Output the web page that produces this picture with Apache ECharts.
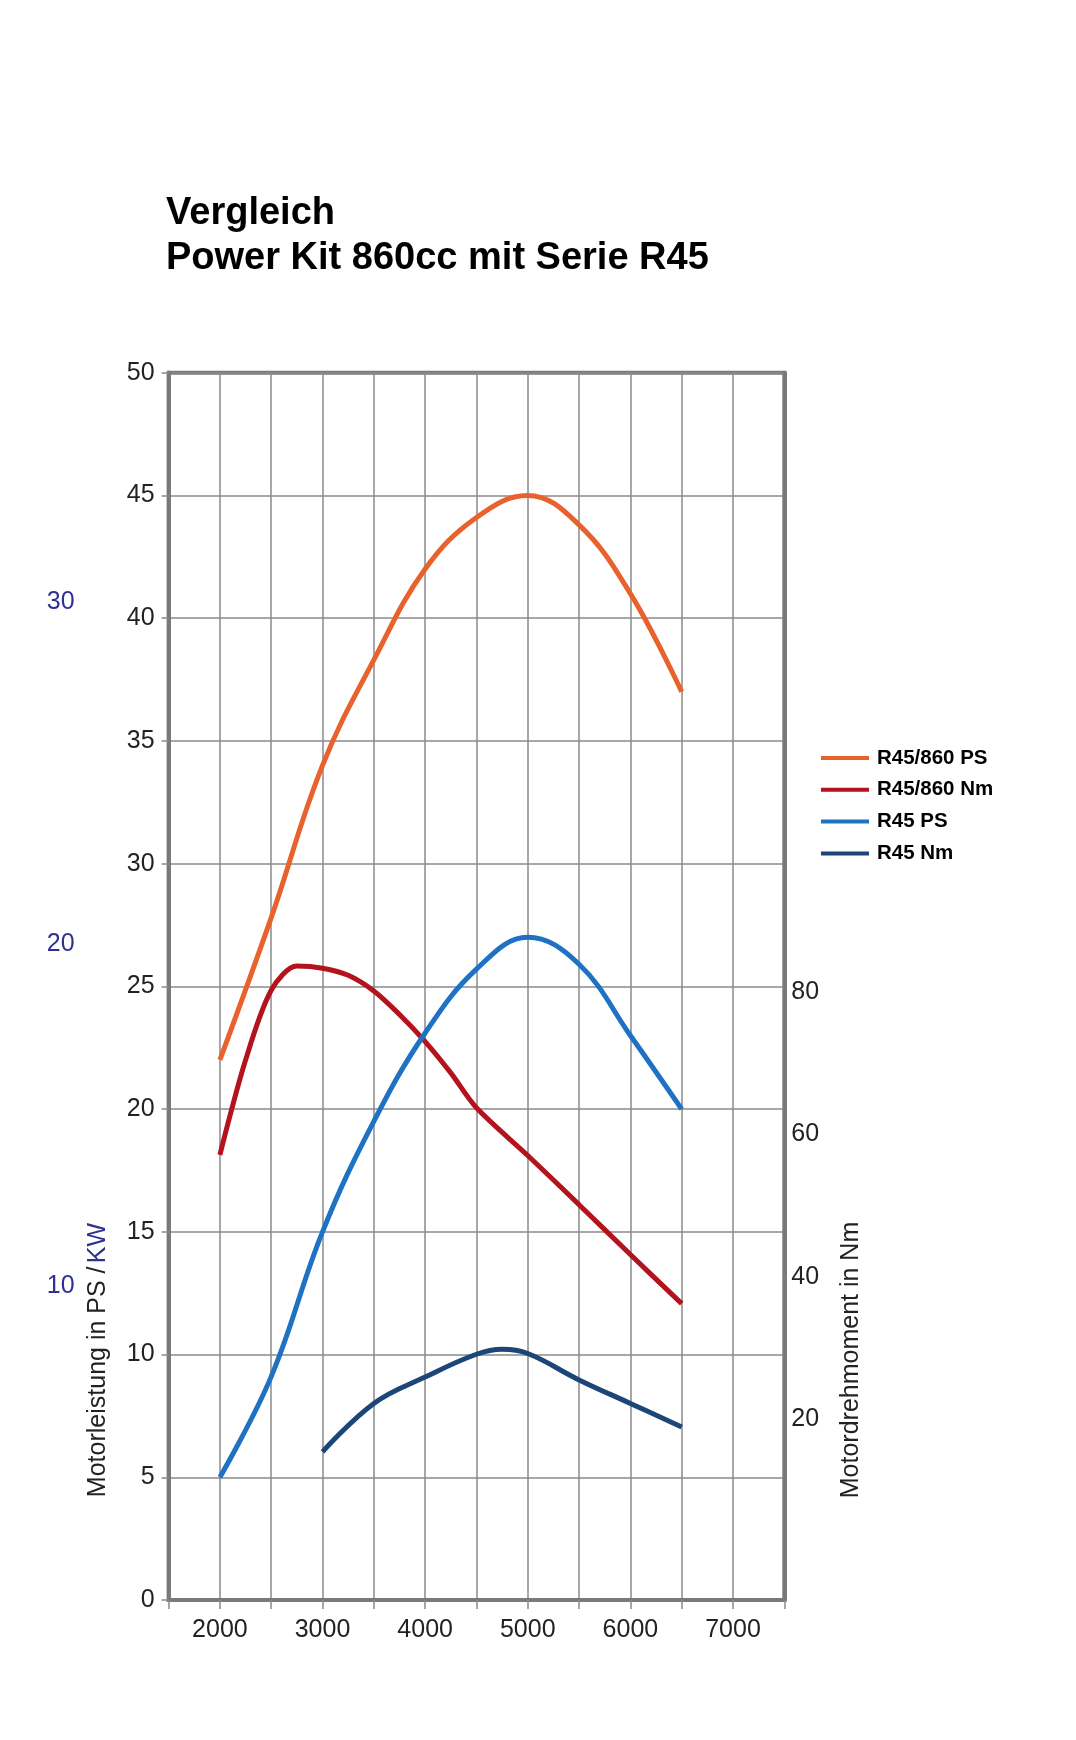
<!DOCTYPE html>
<html>
<head>
<meta charset="utf-8">
<script src="https://cdn.jsdelivr.net/npm/echarts@6/dist/echarts.min.js"></script>
<style>
html,body{margin:0;padding:0;background:#fff;}
#chart{width:1076px;height:1740px;}
</style>
</head>
<body>
<div id="chart"></div>
<script>
// ---- data ----
const titleLines = ['Vergleich', 'Power Kit 860cc mit Serie R45'];
const seriesNames = ['R45/860 PS', 'R45/860 Nm', 'R45 PS', 'R45 Nm'];

const rpmPS = [2000, 2500, 3000, 3500, 4000, 4500, 5000, 5500, 6000, 6500];
const kitPS = [22, 27.8, 34, 38.3, 42, 44.1, 45, 43.8, 41, 37];
const r45PS = [5, 9.1, 15, 19.5, 23.1, 25.7, 27, 25.9, 23, 20];

const rpmKitNm = [2000, 2250, 2500, 2750, 3000, 3250, 3500, 3750, 4000, 4250, 4500, 5000, 5500, 6000, 6500];
const kitNm = [57.1, 70.4, 80.2, 83.6, 83.3, 82.3, 80.1, 76.8, 73.0, 68.6, 63.7, 57, 50.1, 43.1, 36.2];

const rpmR45Nm = [3000, 3500, 4000, 4500, 4750, 5000, 5500, 6000, 6500];
const r45Nm = [15.4, 22.2, 25.9, 29.1, 29.8, 29.2, 25.5, 22.2, 18.9];

const nmTicks = [20, 40, 60, 80];
const kwTicks = [10, 20, 30];
const leftAxisName = ['Motorleistung in PS /', 'KW'];
const rightAxisName = 'Motordrehmoment in Nm';

// ---- chart ----
const colors = ['#E8622D', '#B3131D', '#1F71C3', '#1C4677'];
const FONT = 'Liberation Sans, Arial, sans-serif';
const pair = (xs, ys) => xs.map((x, i) => [x, ys[i]]);

const chart = echarts.init(document.getElementById('chart'), null, {renderer: 'canvas'});
const gridLine = {lineStyle: {color: '#8a8a8a', width: 1.5}};
const frame = {lineStyle: {color: '#7a7a7a', width: 4}};

chart.setOption({
  animation: false,
  backgroundColor: '#ffffff',
  color: colors,
  textStyle: {fontFamily: FONT},
  title: {
    text: titleLines.join('\n'),
    left: 166,
    top: 191,
    padding: 0,
    textStyle: {fontFamily: FONT, fontSize: 38, fontWeight: 'bold', color: '#000', lineHeight: 45}
  },
  legend: {
    orient: 'vertical',
    left: 821,
    top: 747.5,
    padding: 0,
    itemGap: 10.8,
    itemWidth: 48,
    itemHeight: 4,
    icon: 'rect',
    data: seriesNames,
    textStyle: {fontFamily: FONT, fontSize: 20.5, fontWeight: 'bold', color: '#000', lineHeight: 20, padding: [0, 0, 0, 3]}
  },
  grid: {
    left: 168.6, top: 372.7, right: 291.7, bottom: 140,
    show: true, borderColor: '#7a7a7a', borderWidth: 4, backgroundColor: 'transparent'
  },
  xAxis: {
    type: 'value',
    min: 1500, max: 7500, interval: 500,
    axisLine: frame,
    axisTick: {show: true, inside: false, length: 9, lineStyle: {color: '#8a8a8a', width: 1.5}},
    splitLine: {show: true, ...gridLine},
    axisLabel: {
      fontFamily: FONT, fontSize: 25, color: '#222', margin: 18,
      formatter: v => (v % 1000 === 0 ? String(v) : '')
    }
  },
  yAxis: [
    {
      type: 'value', position: 'left',
      min: 0, max: 50, interval: 5,
      axisLine: {show: true, ...frame},
      axisTick: {show: true, length: 7, lineStyle: {color: '#8a8a8a', width: 1.5}},
      splitLine: {show: true, ...gridLine},
      axisLabel: {fontFamily: FONT, fontSize: 25, color: '#222', margin: 14}
    },
    {
      type: 'value', position: 'right',
      min: -5.4, max: 166.9,
      axisLine: {show: true, ...frame},
      axisTick: {show: false},
      splitLine: {show: false},
      axisLabel: {fontFamily: FONT, fontSize: 25, color: '#222', margin: 7, customValues: nmTicks}
    },
    {
      type: 'value', position: 'left', offset: 86,
      min: 0.8, max: 36.72,
      axisLine: {show: false},
      axisTick: {show: false},
      splitLine: {show: false},
      axisLabel: {fontFamily: FONT, fontSize: 25, color: '#2E3192', margin: 8, customValues: kwTicks}
    }
  ],
  series: [
    {name: seriesNames[0], type: 'line', yAxisIndex: 0, data: pair(rpmPS, kitPS), smooth: 0.4, showSymbol: false, lineStyle: {width: 5, color: colors[0]}, z: 5},
    {name: seriesNames[1], type: 'line', yAxisIndex: 1, data: pair(rpmKitNm, kitNm), smooth: 0.3, showSymbol: false, lineStyle: {width: 5, color: colors[1]}, z: 4},
    {name: seriesNames[2], type: 'line', yAxisIndex: 0, data: pair(rpmPS, r45PS), smooth: 0.4, showSymbol: false, lineStyle: {width: 5, color: colors[2]}, z: 6},
    {name: seriesNames[3], type: 'line', yAxisIndex: 1, data: pair(rpmR45Nm, r45Nm), smooth: 0.4, showSymbol: false, lineStyle: {width: 5, color: colors[3]}, z: 3}
  ],
  graphic: [
    {
      type: 'text', x: 98.5, y: 1360, rotation: Math.PI / 2,
      style: {
        text: '{a|' + leftAxisName[0] + '} {b|' + leftAxisName[1] + '}',
        align: 'center', verticalAlign: 'middle',
        rich: {
          a: {fontFamily: FONT, fontSize: 25, fill: '#222'},
          b: {fontFamily: FONT, fontSize: 25, fill: '#2E3192'}
        }
      }
    },
    {
      type: 'text', x: 851, y: 1360, rotation: Math.PI / 2,
      style: {
        text: rightAxisName, align: 'center', verticalAlign: 'middle',
        fontFamily: FONT, fontSize: 25, fill: '#222'
      }
    }
  ]
});
</script>
</body>
</html>
